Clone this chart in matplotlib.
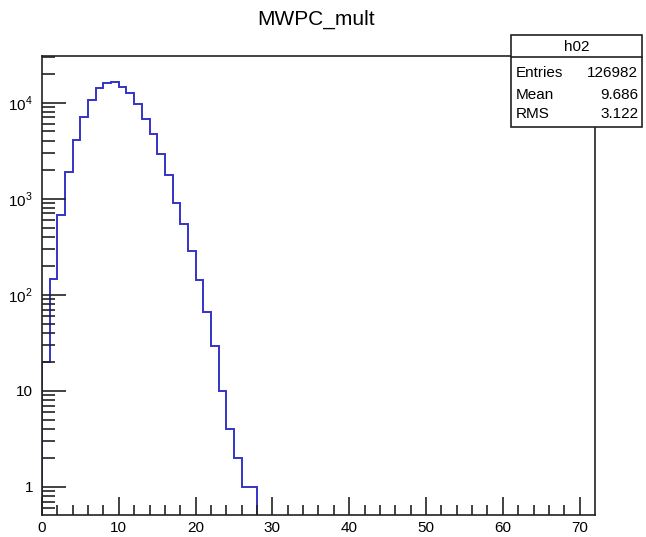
import numpy as np
import matplotlib
matplotlib.use("Agg")
import matplotlib.pyplot as plt
from matplotlib.ticker import FixedLocator, NullFormatter, FuncFormatter

# Multiplicidad MWPC, bins de ancho 1 (el resto de los bins hasta 72 vale 0)
counts = [20, 145, 675, 1900, 4070, 7150, 10600, 14000, 15800, 16300,
          14500, 12700, 9700, 6800, 4700, 2880, 1740, 890, 540, 285,
          142, 66, 29, 10, 4, 2, 1, 1]
edges = np.arange(len(counts) + 1)

hist_name = "h02"
stat_labels = ["Entries", "Mean", "RMS"]
stat_values = ["126982", "9.686", "3.122"]

plt.rcParams['font.family'] = ['Liberation Sans', 'DejaVu Sans']
plt.rcParams['mathtext.fontset'] = 'custom'
plt.rcParams['mathtext.rm'] = 'Liberation Sans'

fig = plt.figure(figsize=(6.46, 5.37), dpi=100)
ax = fig.add_axes([0.065, 0.041, 0.856, 0.855])

ax.stairs(counts, edges, baseline=1e-3, color='#3434c4', linewidth=1.4)

ax.set_yscale('log')
ax.set_xlim(0, 72)
ax.set_ylim(0.51, 3.06e4)

# ticks estilo ROOT
ax.xaxis.set_major_locator(FixedLocator(np.arange(0, 71, 10)))
ax.xaxis.set_minor_locator(FixedLocator(np.arange(0, 72, 2)))
ax.yaxis.set_major_locator(FixedLocator([1, 10, 100, 1000, 10000]))
minors = [m * 10.0 ** e for e in range(-1, 5) for m in range(2, 10)]
ax.yaxis.set_minor_locator(FixedLocator(minors))
ax.yaxis.set_minor_formatter(NullFormatter())

def ylab(v, pos):
    if v < 50:
        return "%d" % v
    return r"$\mathrm{10}^{\mathrm{%d}}$" % int(round(np.log10(v)))

ax.yaxis.set_major_formatter(FuncFormatter(ylab))
ax.tick_params(axis='both', which='both', direction='in', top=False, right=False,
               labelsize=11, width=1.2, color='#222222')
ax.tick_params(axis='x', which='major', length=13, pad=4)
ax.tick_params(axis='x', which='minor', length=7)
ax.tick_params(axis='y', which='major', length=17, pad=6.5)
ax.tick_params(axis='y', which='minor', length=9)
for s in ax.spines.values():
    s.set_linewidth(1.2)
    s.set_color('#222222')

fig.text(0.49, 0.963, "MWPC_mult", ha='center', va='center', fontsize=15)

# caja de estadisticas
x0, x1 = 0.791, 0.994
y0, y1 = 0.763, 0.935
yh = 0.894
row_y = [0.864, 0.823, 0.788]
box = plt.Rectangle((x0, y0), x1 - x0, y1 - y0, transform=fig.transFigure,
                    facecolor='white', edgecolor='#222222', linewidth=1.2, zorder=5)
fig.add_artist(box)
fig.add_artist(plt.Line2D([x0, x1], [yh, yh], transform=fig.transFigure,
                          color='#222222', linewidth=1.2, zorder=6))
fig.text((x0 + x1) / 2, 0.912, hist_name, ha='center', va='center',
         fontsize=11, zorder=7)
for yy, lab, val in zip(row_y, stat_labels, stat_values):
    fig.text(x0 + 0.007, yy, lab, ha='left', va='center', fontsize=11, zorder=7)
    fig.text(x1 - 0.006, yy, val, ha='right', va='center', fontsize=11, zorder=7)

fig.savefig("out.png", dpi=100)
